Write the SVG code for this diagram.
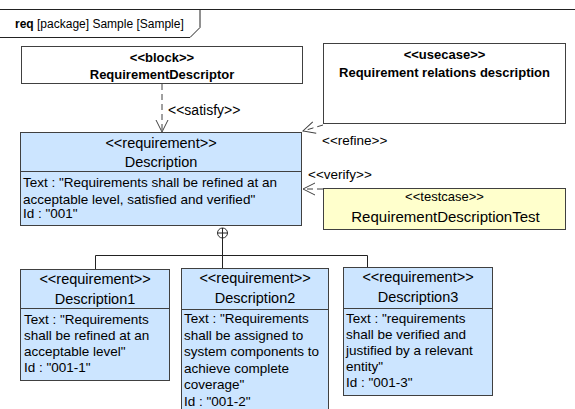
<svg xmlns="http://www.w3.org/2000/svg" width="575" height="409" viewBox="0 0 575 409">
<style>
  text { font-family: "Liberation Sans", Arial, sans-serif; fill: #000; }
  .b { font-weight: bold; }
  .h { font-size: 14.5px; text-anchor: middle; }
  .hb { font-size: 13px; text-anchor: middle; font-weight: bold; }
  .t { font-size: 13.5px; }
  .lbl { font-size: 13.5px; }
  .box { stroke: #404040; stroke-width: 1; }
  .req { fill: #CCE5FF; }
  .blk { fill: #FFFFFF; }
  .tc { fill: #FFFFCC; }
  .dep { fill: none; stroke: #404040; stroke-width: 1; stroke-dasharray: 6,4; }
  .ln { fill: none; stroke: #222; stroke-width: 1; }
</style>
<defs>
  <marker id="open" viewBox="0 0 14 14" refX="13" refY="7" markerWidth="14" markerHeight="14" markerUnits="userSpaceOnUse" orient="auto">
    <path d="M1,1 L13,7 L1,13" fill="none" stroke="#404040" stroke-width="1"/>
  </marker>
</defs>
<rect width="575" height="409" fill="#FFFFFF"/>
<g id="frame">
  <path d="M0,9.5 H575 M0,37.5 H190 L200,27.5 V9.5" fill="none" stroke="#222" stroke-width="1"/>
  <text x="15" y="28" style="font-size:12px"><tspan font-weight="bold">req</tspan> [package] Sample [Sample]</text>
</g>
<g id="connectors">
  <path class="dep" d="M162,84 V132" marker-end="url(#open)"/>
  <text class="lbl" x="168" y="115" style="font-size:14px">&lt;&lt;satisfy&gt;&gt;</text>
  <path class="dep" d="M323,125 L303,131" marker-end="url(#open)"/>
  <text class="lbl" x="322" y="145">&lt;&lt;refine&gt;&gt;</text>
  <path class="dep" d="M323,189 H303" marker-end="url(#open)"/>
  <text class="lbl" x="308" y="179">&lt;&lt;verify&gt;&gt;</text>
  <circle cx="222.5" cy="233" r="5" fill="#FFFFFF" stroke="#333" stroke-width="1"/>
  <path class="ln" d="M217.5,233 H227.5 M222.5,228 V268 M95.5,255.5 H367.5 M95.5,255.5 V269 M367.5,255.5 V267"/>
</g>
<g id="block">
  <rect class="box blk" x="21.5" y="46.5" width="281" height="37"/>
  <text class="hb" x="162" y="62">&lt;&lt;block&gt;&gt;</text>
  <text class="hb" x="162" y="79">RequirementDescriptor</text>
</g>
<g id="usecase">
  <rect class="box blk" x="323.5" y="43.5" width="242" height="80"/>
  <text class="hb" x="444.5" y="59">&lt;&lt;usecase&gt;&gt;</text>
  <text class="hb" x="444.5" y="77">Requirement relations description</text>
</g>
<g id="testcase">
  <rect class="box tc" x="323.5" y="188.5" width="242" height="41"/>
  <text class="h" x="444.5" y="201" style="font-size:13px">&lt;&lt;testcase&gt;&gt;</text>
  <text class="h" x="445.5" y="222" style="font-size:15px">RequirementDescriptionTest</text>
</g>
<g id="description">
  <rect class="box req" x="20.5" y="132.5" width="281" height="93"/>
  <line class="box" x1="20.5" y1="171.5" x2="301.5" y2="171.5"/>
  <text class="h" x="161" y="148">&lt;&lt;requirement&gt;&gt;</text>
  <text class="h" x="161" y="167">Description</text>
  <text class="t" x="23" y="187">Text : "Requirements shall be refined at an</text>
  <text class="t" x="23" y="204">acceptable level, satisfied and verified"</text>
  <text class="t" x="23" y="218">Id : "001"</text>
</g>
<g id="description1">
  <rect class="box req" x="20.5" y="269.5" width="149" height="111"/>
  <line class="box" x1="20.5" y1="308.5" x2="169.5" y2="308.5"/>
  <text class="h" x="95" y="284">&lt;&lt;requirement&gt;&gt;</text>
  <text class="h" x="95" y="304">Description1</text>
  <text class="t" x="24" y="324">Text : "Requirements</text>
  <text class="t" x="24" y="340">shall be refined at an</text>
  <text class="t" x="24" y="356">acceptable level"</text>
  <text class="t" x="24" y="372">Id : "001-1"</text>
</g>
<g id="description2">
  <rect class="box req" x="181.5" y="268.5" width="147" height="150"/>
  <line class="box" x1="181.5" y1="309.5" x2="328.5" y2="309.5"/>
  <text class="h" x="255" y="283">&lt;&lt;requirement&gt;&gt;</text>
  <text class="h" x="255" y="303">Description2</text>
  <text class="t" x="184" y="323">Text : "Requirements</text>
  <text class="t" x="184" y="339.5">shall be assigned to</text>
  <text class="t" x="184" y="356">system components to</text>
  <text class="t" x="184" y="372.5">achieve complete</text>
  <text class="t" x="184" y="389">coverage"</text>
  <text class="t" x="184" y="405.5">Id : "001-2"</text>
</g>
<g id="description3">
  <rect class="box req" x="343.5" y="267.5" width="149" height="128"/>
  <line class="box" x1="343.5" y1="308.5" x2="492.5" y2="308.5"/>
  <text class="h" x="418" y="282">&lt;&lt;requirement&gt;&gt;</text>
  <text class="h" x="418" y="302">Description3</text>
  <text class="t" x="346" y="323">Text : "requirements</text>
  <text class="t" x="346" y="339">shall be verified and</text>
  <text class="t" x="346" y="355">justified by a relevant</text>
  <text class="t" x="346" y="371">entity"</text>
  <text class="t" x="346" y="387">Id : "001-3"</text>
</g>
</svg>
